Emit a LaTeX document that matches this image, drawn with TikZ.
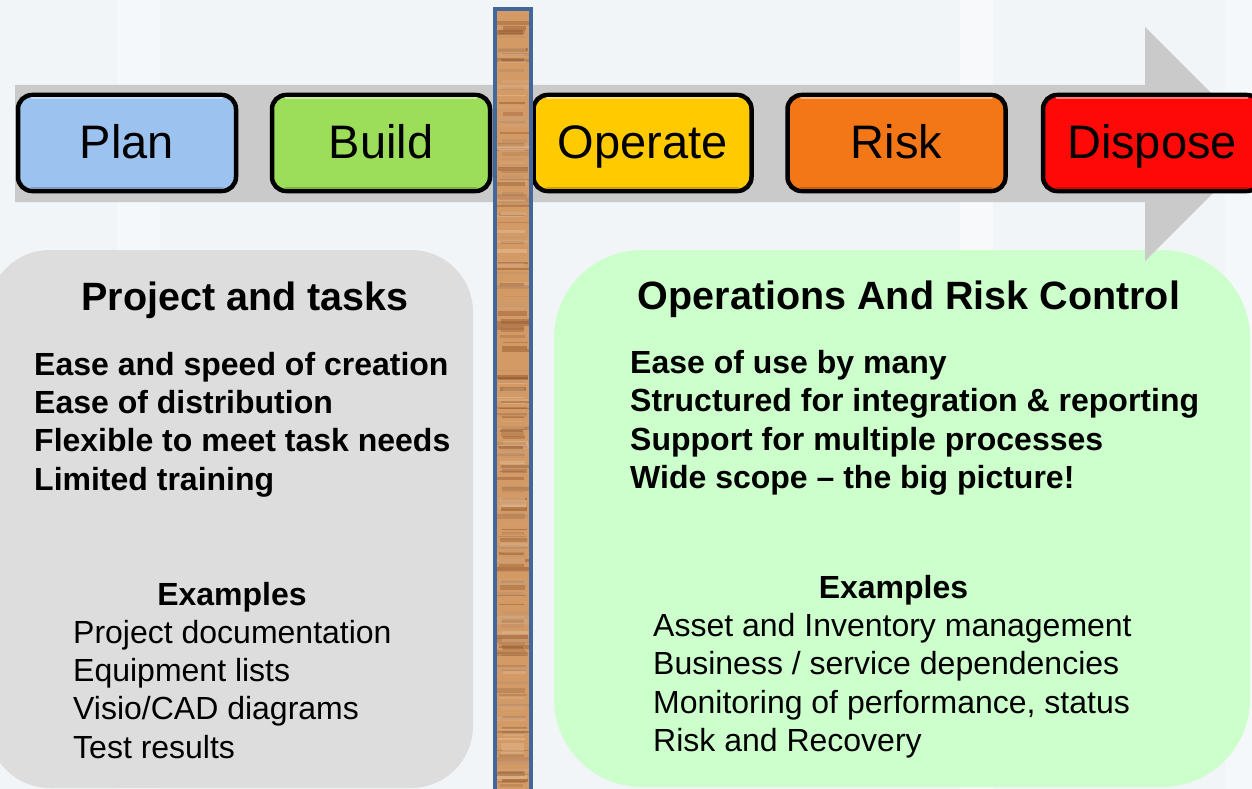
\documentclass[tikz,border=0pt]{standalone}
\usepackage{fontspec}
\setmainfont{Liberation Sans}
\definecolor{bgc}{HTML}{F2F5F8}
\definecolor{bandc}{HTML}{CACACA}
\definecolor{planc}{HTML}{9CC2F0}
\definecolor{buildc}{HTML}{9CDD5A}
\definecolor{operc}{HTML}{FFCA00}
\definecolor{riskc}{HTML}{F37716}
\definecolor{dispc}{HTML}{FF0808}
\definecolor{leftc}{HTML}{DDDDDD}
\definecolor{rightc}{HTML}{CCFFCC}
\definecolor{woodl}{HTML}{E8C29C}
\definecolor{woodm}{HTML}{D49A66}
\definecolor{woodd}{HTML}{8E5226}
\definecolor{barc}{HTML}{41679B}
\begin{document}
\begin{tikzpicture}[x=1pt,y=-1pt,
 stagebox/.style={draw=black, line width=4.5pt, rounded corners=14pt, minimum width=218pt, minimum height=96pt, inner sep=0pt, text height=34pt, text depth=4pt, font=\fontsize{47}{56}\selectfont},
 headtxt/.style={anchor=base, inner sep=0pt, font=\fontsize{39.5}{47}\selectfont\bfseries},
 pointtxt/.style={anchor=base west, inner sep=0pt, font=\fontsize{32}{38}\selectfont\bfseries},
 extitle/.style={anchor=base, inner sep=0pt, font=\fontsize{32}{38}\selectfont\bfseries},
 extxt/.style={anchor=base west, inner sep=0pt, font=\fontsize{32}{38}\selectfont}]
\useasboundingbox (0,0) rectangle (1252,789);
\clip (0,0) rectangle (1252,789);
% background
\fill[bgc] (0,0) rectangle (1252,789);
\fill[white, opacity=0.3] (117,0) rectangle (160,789);
\fill[white, opacity=0.45] (960,0) rectangle (993,789);
\fill[white, opacity=0.3] (1225,0) rectangle (1252,789);
% panels
\fill[leftc, rounded corners=62pt] (-12,250) rectangle (473,788);
\fill[rightc, rounded corners=88pt] (554,250) rectangle (1250,787);
% arrow band
\fill[bandc] (15,85) -- (1145,85) -- (1145,27) -- (1262,144) -- (1145,261) -- (1145,202) -- (15,202) -- cycle;
% stages
\node[stagebox, fill=planc]  (P) at (127,143)  {Plan};
\node[stagebox, fill=buildc] (B) at (381,143)  {Build};
\node[stagebox, fill=operc]  (O) at (642.5,143) {Operate};
\node[stagebox, fill=riskc]  (R) at (896.5,143) {Risk};
\node[stagebox, fill=dispc]  (D) at (1152,143) {Dispose};
\foreach \n/\c in {P/planc,B/buildc,O/operc,R/riskc,D/dispc} {
  \draw[\c!55!white, line width=2.5pt, line cap=round] ([xshift=16pt,yshift=-5.5pt]\n.north west) -- ([xshift=-16pt,yshift=-5.5pt]\n.north east);
  \draw[\c!80!black, line width=2.5pt, line cap=round] ([xshift=16pt,yshift=5.5pt]\n.south west) -- ([xshift=-16pt,yshift=5.5pt]\n.south east);
}
% wooden bar
\fill[woodm] (495,9) rectangle (531,800);
\begin{scope}
\clip (497,11) rectangle (529,800);
\pgfmathsetseed{17}
\foreach \k in {1,...,260} {
  \pgfmathsetmacro\yy{10+790*rnd}
  \pgfmathtruncatemacro\cc{100*rnd}
  \pgfmathsetmacro\ww{1+3.5*rnd}
  \pgfmathsetmacro\xa{495+8*rnd}
  \pgfmathsetmacro\xb{531-8*rnd}
  \draw[woodd!\cc!woodl, line width=\ww pt, opacity=0.5] (\xa,\yy) -- (\xb,\yy);
}
\end{scope}
\draw[barc, line width=4pt] (495,9) rectangle (531,800);
% left texts
\node[headtxt] (lt) at (245,310) {Project and tasks};
\node[pointtxt] (l1) at (34,375)   {Ease and speed of creation};
\node[pointtxt] (l2) at (34,413.4) {Ease of distribution};
\node[pointtxt] (l3) at (34,451.8) {Flexible to meet task needs};
\node[pointtxt] (l4) at (34,490.2) {Limited training};
\node[extitle] (lx) at (232,605) {Examples};
\node[extxt] (le1) at (73,643)   {Project documentation};
\node[extxt] (le2) at (73,681.4) {Equipment lists};
\node[extxt] (le3) at (73,719.8) {Visio/CAD diagrams};
\node[extxt] (le4) at (73,758.2) {Test results};
% right texts
\node[headtxt] (rt) at (909,309) {Operations And Risk Control};
\node[pointtxt] (r1) at (630,373.5) {Ease of use by many};
\node[pointtxt] (r2) at (630,411.9) {Structured for integration \& reporting};
\node[pointtxt] (r3) at (630,450.3) {Support for multiple processes};
\node[pointtxt] (r4) at (630,488.7) {Wide scope – the big picture!};
\node[extitle] (rx) at (893.5,598.5) {Examples};
\node[extxt] (re1) at (653,636.5) {Asset and Inventory management};
\node[extxt] (re2) at (653,674.9) {Business / service dependencies};
\node[extxt] (re3) at (653,713.3) {Monitoring of performance, status};
\node[extxt] (re4) at (653,751.7) {Risk and Recovery};
\end{tikzpicture}
\end{document}
